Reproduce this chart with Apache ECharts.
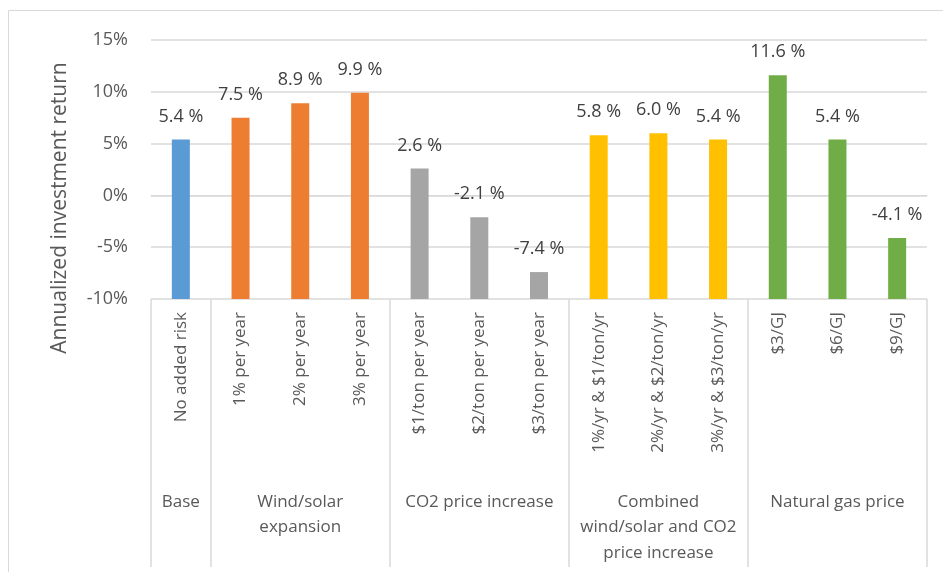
<!DOCTYPE html>
<html>
<head>
<meta charset="utf-8">
<script src="https://cdn.jsdelivr.net/npm/echarts@6/dist/echarts.min.js"></script>
<style>
html,body{margin:0;padding:0;background:#fff;}
#chart{width:943px;height:572px;}
</style>
</head>
<body>
<div id="chart"></div>
<script>
// ---- data ----
const categories = [
  'No added risk',
  '1% per year', '2% per year', '3% per year',
  '$1/ton per year', '$2/ton per year', '$3/ton per year',
  '1%/yr & $1/ton/yr', '2%/yr & $2/ton/yr', '3%/yr & $3/ton/yr',
  '$3/GJ', '$6/GJ', '$9/GJ'
];
const values = [5.4, 7.5, 8.9, 9.9, 2.6, -2.1, -7.4, 5.8, 6.0, 5.4, 11.6, 5.4, -4.1];
const groupNames = ['Base', 'Wind/solar\nexpansion', 'CO2 price increase', 'Combined\nwind/solar and CO2\nprice increase', 'Natural gas price'];
const groupSizes = [1, 3, 3, 3, 3];
const yTicks = [-10, -5, 0, 5, 10, 15];

// ---- styles ----
const groupColors = ['#5B9BD5', '#ED7D31', '#A5A5A5', '#FFC000', '#70AD47'];
const FONT = '"Open Sans", sans-serif';

// derived helpers
const groupOf = [];
const groupStarts = [];
const groupLabelAt = {};
let idx = 0;
groupSizes.forEach((n, g) => {
  groupStarts.push(idx);
  groupLabelAt[idx + Math.floor((n - 1) / 2)] = groupNames[g];
  for (let k = 0; k < n; k++) groupOf.push(g);
  idx += n;
});

const lineCol = '#d9d9d9';

const chart = echarts.init(document.getElementById('chart'));
chart.setOption({
  animation: false,
  textStyle: { fontFamily: FONT },
  grid: [
    { left: 151, right: 16, top: 40, bottom: 273, containLabel: false },
    { left: 151, right: 16, top: 299, bottom: 5, containLabel: false }
  ],
  graphic: [
    { type: 'rect', shape: { x: 8.5, y: 10.5, width: 980, height: 600 },
      style: { fill: 'none', stroke: lineCol, lineWidth: 1 }, silent: true, z: -1 },
    { type: 'text', x: 60, y: 208, rotation: Math.PI / 2,
      style: { text: 'Annualized investment return', font: '21px ' + FONT, fill: '#595959',
               align: 'center', verticalAlign: 'middle' } }
  ],
  xAxis: [
    {
      type: 'category', gridIndex: 0, data: categories, position: 'bottom', boundaryGap: true,
      axisLine: { show: true, lineStyle: { color: lineCol } },
      axisTick: { show: false },
      axisLabel: { interval: 0, rotate: 90, margin: 13, fontSize: 17, color: '#595959', fontFamily: FONT }
    },
    {
      type: 'category', gridIndex: 0, data: categories, position: 'bottom', offset: 180, boundaryGap: true,
      axisLine: { show: false }, axisTick: { show: false },
      axisLabel: { interval: 0, margin: 10, fontSize: 17, lineHeight: 25.5, color: '#595959', fontFamily: FONT,
                   align: 'center',
                   formatter: (v, i) => groupLabelAt[i] || '' }
    },
    {
      type: 'category', gridIndex: 1, data: categories, position: 'top', boundaryGap: true,
      axisLine: { show: false }, axisTick: { show: false }, axisLabel: { show: false },
      splitLine: { show: true, interval: (i) => groupStarts.includes(i),
                   lineStyle: { color: lineCol, width: 1.5 } }
    }
  ],
  yAxis: [
    {
      type: 'value', gridIndex: 0, min: yTicks[0], max: yTicks[yTicks.length - 1], interval: 5, startValue: yTicks[0],
      axisLine: { show: false }, axisTick: { show: false },
      axisLabel: { formatter: '{value}%', fontSize: 18, color: '#595959', margin: 23, fontFamily: FONT },
      splitLine: { lineStyle: { color: lineCol, width: 1.5 } }
    },
    {
      type: 'value', gridIndex: 1, min: 0, max: 1, show: false
    }
  ],
  series: [{
    type: 'bar', xAxisIndex: 0, yAxisIndex: 0, data: values, barWidth: 18,
    itemStyle: { color: (p) => groupColors[groupOf[p.dataIndex]] },
    label: { show: true, position: 'top', distance: 14, fontSize: 18, color: '#404040', fontFamily: FONT,
             formatter: (p) => p.value.toFixed(1) + ' %' }
  }]
});
</script>
</body>
</html>
